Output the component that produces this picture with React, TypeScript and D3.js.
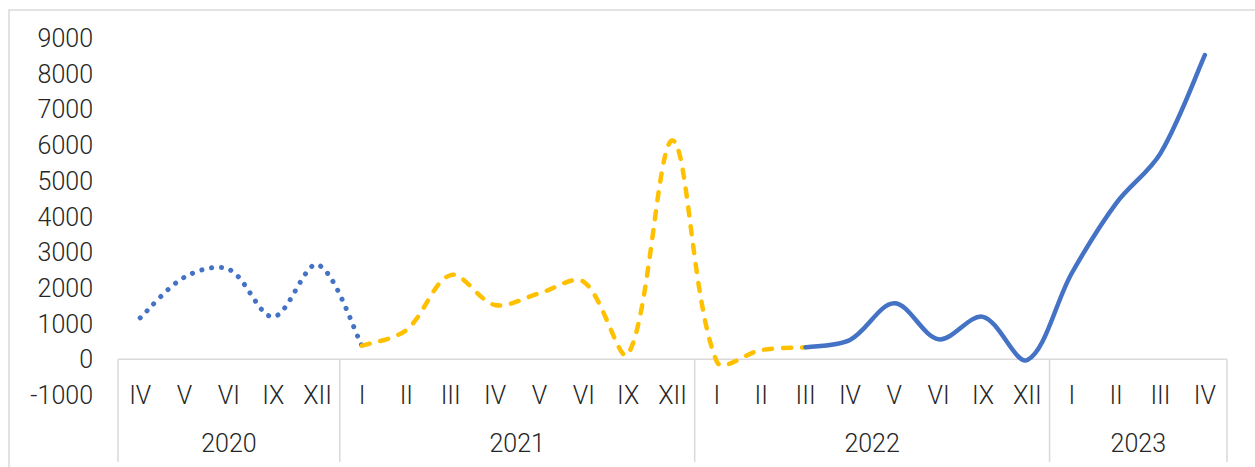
import React from "react";
import * as d3 from "d3";

const years = ["2020", "2021", "2022", "2023"];
const months2020 = ["IV", "V", "VI", "IX", "XII"];
const months2021 = ["I", "II", "III", "IV", "V", "VI", "IX", "XII"];
const months2022 = ["I", "II", "III", "IV", "V", "VI", "IX", "XII"];
const months2023 = ["I", "II", "III", "IV"];
const monthsByYear = [months2020, months2021, months2022, months2023];

// Series values aligned to the 25 categories (null = no value)
const seriesDotted = [1160, 2300, 2520, 1190, 2650, 380, null, null, null, null, null, null, null, null, null, null, null, null, null, null, null, null, null, null, null];
const seriesDashed = [null, null, null, null, null, 380, 820, 2360, 1520, 1850, 2170, 150, 6130, -70, 260, 335, null, null, null, null, null, null, null, null, null];
const seriesSolid = [null, null, null, null, null, null, null, null, null, null, null, null, null, null, null, 335, 540, 1570, 560, 1190, -20, 2410, 4370, 5770, 8520];

const yTicks = [-1000, 0, 1000, 2000, 3000, 4000, 5000, 6000, 7000, 8000, 9000];

const W = 1255;
const H = 467;
const FONT = "Roboto, 'Open Sans', sans-serif";
const TEXT = "#262626";
const GRID = "#D9D9D9";

// Excel-like smoothed line: Catmull-Rom tangents, scaled by relative segment lengths
function smoothPath(pts: [number, number][]): string {
  const p = d3.path();
  if (!pts.length) return "";
  const dist = (a: [number, number], b: [number, number]) => Math.hypot(b[0] - a[0], b[1] - a[1]);
  p.moveTo(pts[0][0], pts[0][1]);
  for (let i = 0; i < pts.length - 1; i++) {
    const p0 = pts[Math.max(0, i - 1)];
    const p1 = pts[i];
    const p2 = pts[i + 1];
    const p3 = pts[Math.min(pts.length - 1, i + 2)];
    const dPrev = dist(p0, p1);
    const dCur = dist(p1, p2);
    const dNext = dist(p2, p3);
    const f1 = i === 0 ? 1 / 6 : dCur / (dPrev + dCur) / 3;
    const f2 = i === pts.length - 2 ? 1 / 6 : dCur / (dCur + dNext) / 3;
    const c1x = p1[0] + (p2[0] - p0[0]) * f1;
    const c1y = p1[1] + (p2[1] - p0[1]) * f1;
    const c2x = p2[0] - (p3[0] - p1[0]) * f2;
    const c2y = p2[1] - (p3[1] - p1[1]) * f2;
    p.bezierCurveTo(c1x, c1y, c2x, c2y, p2[0], p2[1]);
  }
  return p.toString();
}

export default function App() {
  const cats: { key: string; month: string; year: string }[] = [];
  monthsByYear.forEach((ms, yi) => ms.forEach((m) => cats.push({ key: `${years[yi]}-${m}`, month: m, year: years[yi] })));

  const x = d3.scaleBand<string>().domain(cats.map((c) => c.key)).range([118, 1227]).padding(0);
  const y = d3.scaleLinear().domain([-1000, 9000]).range([395, 38]);
  const cx = (i: number) => (x(cats[i].key) as number) + x.bandwidth() / 2;

  const mkLine = (vals: (number | null)[]) => {
    const pts: [number, number][] = [];
    vals.forEach((v, i) => {
      if (v !== null) pts.push([cx(i), y(v)]);
    });
    return smoothPath(pts);
  };

  const boundaries: number[] = [];
  let idx = 0;
  boundaries.push(x(cats[0].key) as number);
  const groups: { year: string; x0: number; x1: number }[] = [];
  monthsByYear.forEach((ms, yi) => {
    const x0 = x(cats[idx].key) as number;
    idx += ms.length;
    const x1 = (x(cats[idx - 1].key) as number) + x.bandwidth();
    boundaries.push(x1);
    groups.push({ year: years[yi], x0, x1 });
  });

  const zeroY = y(0);

  return (
    <svg width={W} height={H} style={{ position: "absolute", left: 0, top: 0, background: "#fff" }} fontFamily={FONT}>
      <rect x={9} y={10} width={1260} height={470} fill="#fff" stroke={GRID} strokeWidth={1.5} />
      {yTicks.map((t) => (
        <text key={t} x={93} y={y(t)} dy="0.36em" textAnchor="end" fontSize={25} fontWeight={300} fill={TEXT}>
          {t}
        </text>
      ))}
      <line x1={118} x2={1227} y1={zeroY} y2={zeroY} stroke={GRID} strokeWidth={1.5} />
      {boundaries.map((b, i) => (
        <line key={i} x1={b} x2={b} y1={zeroY} y2={462} stroke={GRID} strokeWidth={1.5} />
      ))}
      {cats.map((c, i) => (
        <text key={c.key} x={cx(i)} y={395} dy="0.36em" textAnchor="middle" fontSize={25} fontWeight={300} fill={TEXT}>
          {c.month}
        </text>
      ))}
      {groups.map((g) => (
        <text key={g.year} x={(g.x0 + g.x1) / 2} y={443} dy="0.36em" textAnchor="middle" fontSize={25} fontWeight={300} fill={TEXT}>
          {g.year}
        </text>
      ))}
      <path d={mkLine(seriesDotted)} fill="none" stroke="#4472C4" strokeWidth={5} strokeLinecap="round" strokeDasharray="0.1 9.8" />
      <path d={mkLine(seriesDashed)} fill="none" stroke="#FFC000" strokeWidth={4.5} strokeLinecap="round" strokeDasharray="8 11" />
      <path d={mkLine(seriesSolid)} fill="none" stroke="#4472C4" strokeWidth={4.5} strokeLinecap="round" />
    </svg>
  );
}
